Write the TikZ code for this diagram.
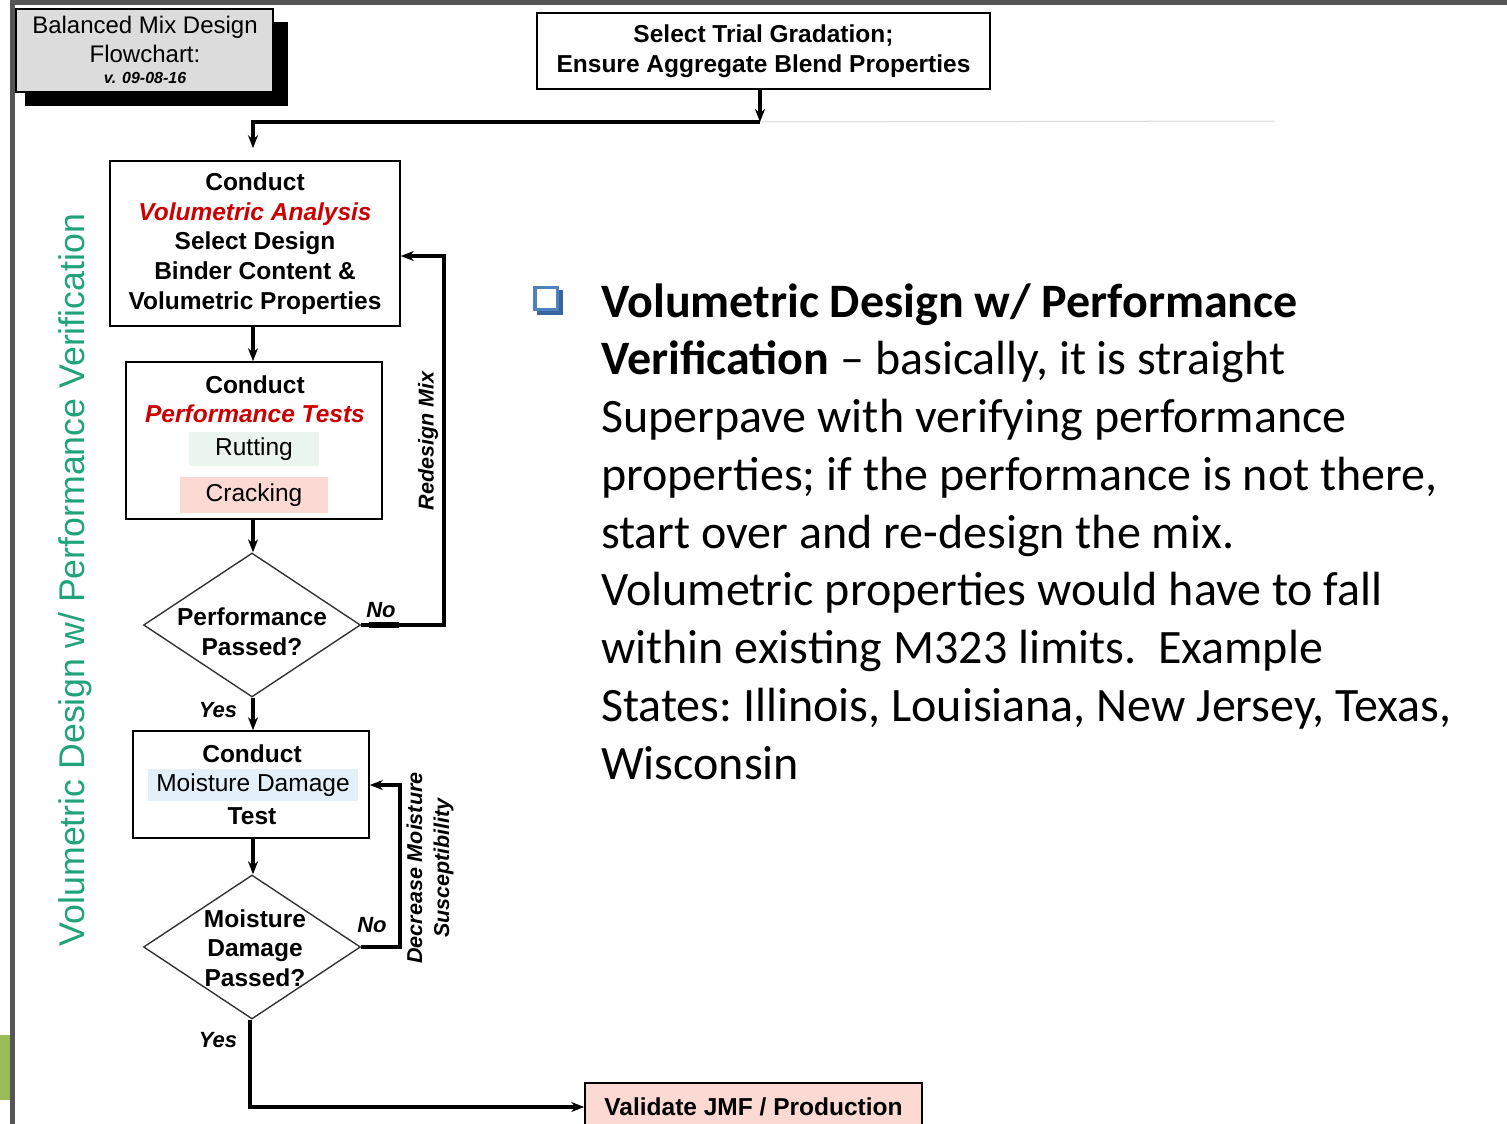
\documentclass[tikz,border=0pt]{standalone}
\usepackage{fontspec}
\setmainfont{Liberation Sans}
\newfontfamily\calfont{Carlito}
\usetikzlibrary{shapes.geometric,arrows.meta,calc}
\definecolor{redtxt}{RGB}{204,0,0}
\definecolor{greentxt}{RGB}{33,163,122}
\definecolor{ruttcol}{RGB}{234,245,238}
\definecolor{crackcol}{RGB}{252,217,210}
\definecolor{moistcol}{RGB}{227,240,250}
\definecolor{titlecol}{RGB}{220,220,220}
\definecolor{framecol}{RGB}{85,85,85}
\definecolor{barcol}{RGB}{155,187,89}
\definecolor{bulletcol}{RGB}{79,129,189}
\definecolor{bulletdark}{RGB}{58,100,160}
\tikzset{
  box/.style={draw, line width=1.6pt, fill=white, inner sep=0pt},
  arr/.style={line width=3.4pt, -{Stealth[length=13pt,width=10pt]}},
  dia/.style={diamond, draw=black!80, line width=1.4pt, inner sep=0pt, minimum width=217pt, minimum height=144pt},
  bt/.style={font=\fontsize{24.5}{29.7}\selectfont\bfseries, align=center, inner sep=0pt},
  rt/.style={font=\fontsize{24.5}{29.7}\selectfont, align=center, inner sep=0pt},
  lbl/.style={font=\fontsize{22}{26}\selectfont\bfseries\itshape, inner sep=0pt},
  rlbl/.style={font=\fontsize{21.5}{27}\selectfont\bfseries\itshape, inner sep=0pt, rotate=90, align=center},
}
\begin{document}
\begin{tikzpicture}[x=1pt,y=-1pt]
\useasboundingbox (0,0) rectangle (1507,1124);
\clip (0,0) rectangle (1507,1124);
% frame
\fill[framecol] (10,0) rectangle (1507,5);
\fill[framecol] (10,0) rectangle (15,1124);
\fill[barcol] (0,1035) rectangle (10,1100);
% title
\fill[black] (25,22) rectangle (288,106);
\node[draw, line width=1.6pt, fill=titlecol, minimum width=257pt, minimum height=83pt, inner sep=0pt] (title) at (144.5,50.5) {};
\node[rt, font=\fontsize{24}{29}\selectfont] (t1) at (145,39) {Balanced Mix Design\\Flowchart:};
\node[inner sep=0pt, font=\fontsize{16}{18}\selectfont\bfseries\itshape] (t2) at (145,78) {v. 09-08-16};
% top box
\node[box, bt, minimum width=453pt, minimum height=76pt] (top) at (763.5,51) {Select Trial Gradation;\\Ensure Aggregate Blend Properties};
\coordinate (j1) at (760,122);
\draw[black!15, line width=1pt] (j1) -- (1275,121);
% box 1
\node[box, bt, minimum width=290pt, minimum height=165pt] (b1) at (255,243.5) {Conduct\\{\color{redtxt}\itshape Volumetric Analysis}\\Select Design\\Binder Content \&\\Volumetric Properties};
% box 2
\node[box, minimum width=256pt, minimum height=157pt] (b2) at (254,440.5) {};
\node[bt, font=\fontsize{24.5}{28.5}\selectfont\bfseries] (b2t) at (255,399) {Conduct\\{\color{redtxt}\itshape Performance Tests}};
\node[rt, fill=ruttcol, minimum width=130pt, minimum height=34pt] (rut) at (254,449) {Rutting};
\node[rt, fill=crackcol, minimum width=148pt, minimum height=36pt] (crack) at (254,495) {Cracking};
% diamond 1
\node[dia] (d1) at (252,625) {};
\node[bt] (d1t) at (252,632) {Performance\\Passed?};
% box 3
\node[box, minimum width=236pt, minimum height=107pt] (b3) at (251,784.5) {};
\node[bt] (b3a) at (252,754) {Conduct};
\node[rt, fill=moistcol, minimum width=210pt, minimum height=32pt] (moist) at (253,785) {Moisture Damage};
\node[bt] (b3b) at (252,816) {Test};
% diamond 2
\node[dia] (d2) at (252,947) {};
\node[bt] (d2t) at (255,948) {Moisture\\Damage\\Passed?};
% validate
\node[box, bt, fill=crackcol, minimum width=337pt, minimum height=48pt] (val) at (753.5,1107) {Validate JMF / Production};
% connectors
\draw[arr] (top.south -| j1) -- (j1);
\draw[arr, shorten >=12pt] (j1) -| (b1.north -| 253,0);
\draw[arr] (b1.south -| 253,0) -- (b2.north -| 253,0);
\draw[arr] (b2.south -| 253,0) -- (d1.north -| 253,0);
\draw[arr] (d1.south -| 253,0) -- (b3.north -| 253,0);
\draw[arr] (b3.south -| 253,0) -- (d2.north -| 253,0);
\draw[arr] (d2.south -| 250,0) |- (val.west);
\coordinate (r1) at (444,256);
\coordinate (r2) at (400,785);
\draw[arr] (d1.east) -| (r1) -- (r1 -| b1.east);
\draw[line width=6pt] ([xshift=8pt]d1.east) -- ++(30,0);
\draw[arr] (d2.east) -| (r2) -- (r2 -| b3.east);
% labels
\node[lbl] (no1) at (381,610) {No};
\node[lbl] (yes1) at (218,710) {Yes};
\node[lbl] (no2) at (372,925) {No};
\node[lbl] (yes2) at (218,1040) {Yes};
\node[rlbl] (redesign) at (428,441) {Redesign Mix};
\node[rlbl] (decrease) at (430,868) {Decrease Moisture\\Susceptibility};
% side text
\node[rotate=90, text=greentxt, font=\fontsize{35.7}{40}\selectfont, inner sep=0pt] (side) at (75,580) {Volumetric Design w/ Performance Verification};
% bullet
\fill[bulletdark] (537,290) rectangle (563,315);
\fill[bulletcol] (533,286) rectangle (559,311);
\fill[white] (537,289) rectangle (556,308);
% paragraph
\node[anchor=base west, inner sep=0pt] (para) at (601,317) {\parbox[t]{900pt}{\calfont\fontsize{48}{57.75}\selectfont\frenchspacing\raggedright
\textbf{Volumetric Design w/ Performance}\\
\textbf{Verification} – basically, it is straight\\
Superpave with verifying performance\\
properties; if the performance is not there,\\
start over and re-design the mix.\\
Volumetric properties would have to fall\\
within existing M323 limits.\ \ Example\\
States: Illinois, Louisiana, New Jersey, Texas,\\
Wisconsin}};
\end{tikzpicture}
\end{document}
